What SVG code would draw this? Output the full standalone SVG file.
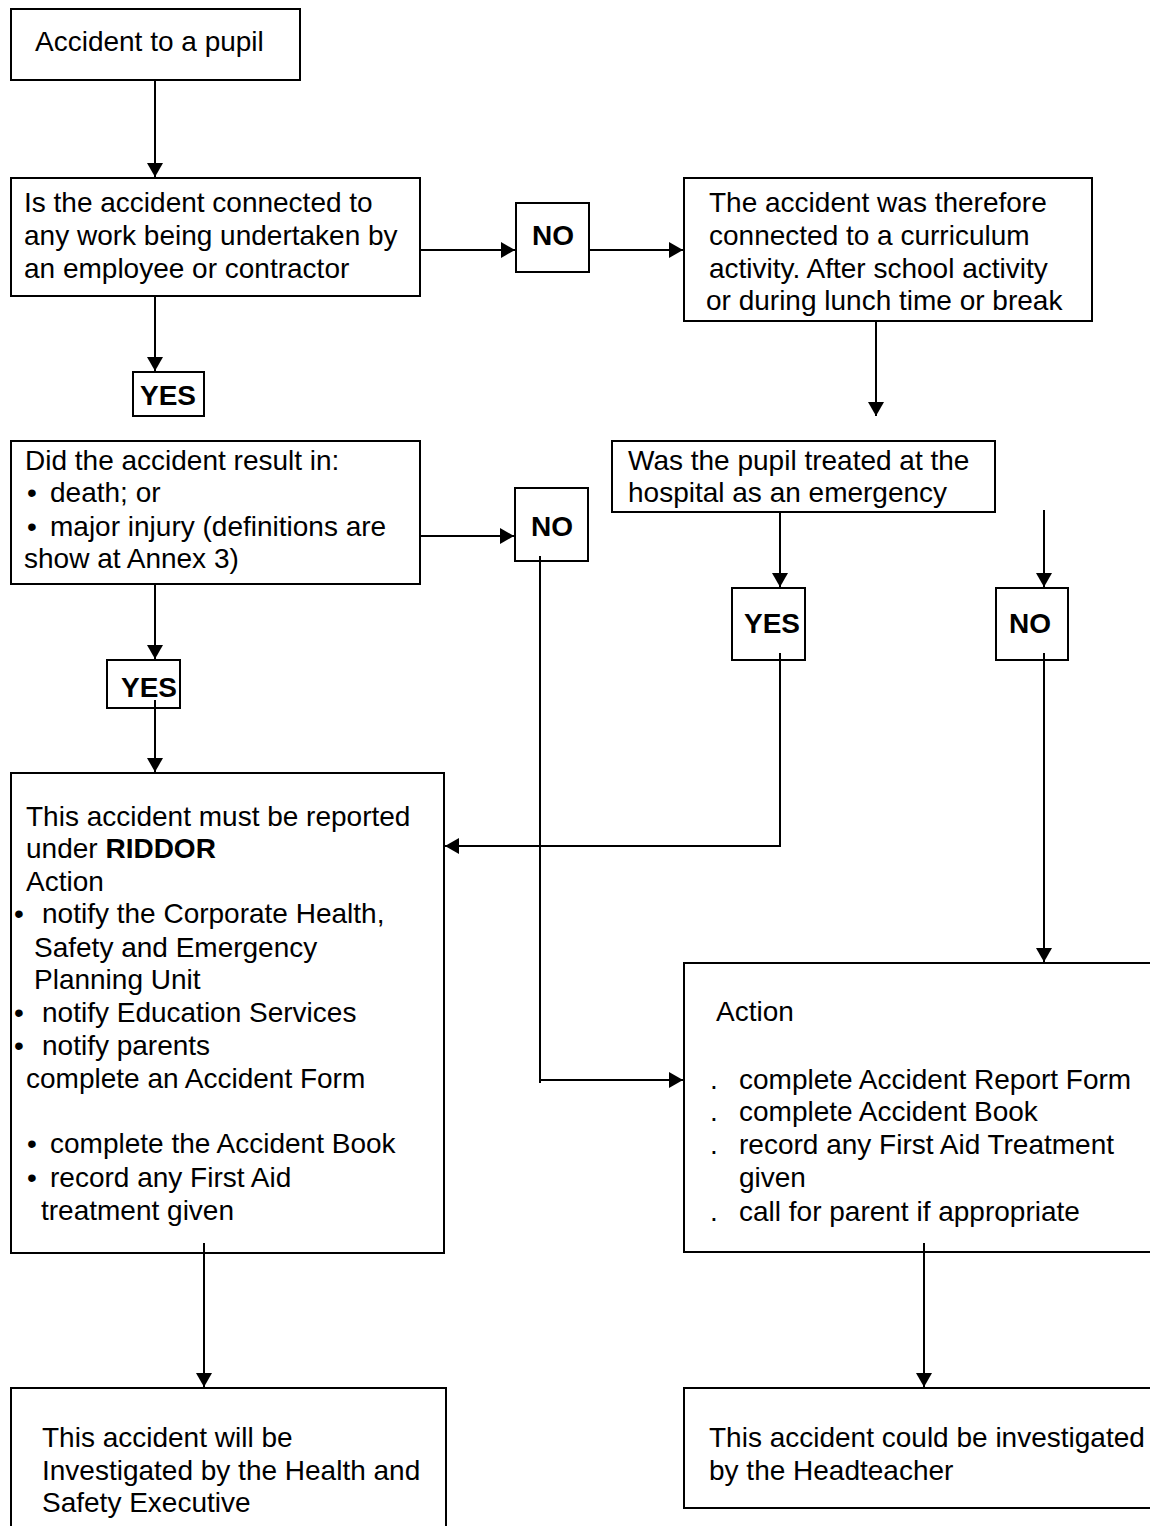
<svg xmlns="http://www.w3.org/2000/svg" width="1150" height="1526" viewBox="0 0 1150 1526">
<style>
.box{fill:#fff;stroke:#000;stroke-width:2}
.t{font-family:"Liberation Sans",Arial,sans-serif;font-size:28px;fill:#000}
.b{font-weight:bold}
.c{text-anchor:middle}
.ln{fill:none;stroke:#000;stroke-width:2}
</style>
<defs>
<marker id="ah" viewBox="0 0 14 16" refX="14" refY="8" markerWidth="14" markerHeight="16" markerUnits="userSpaceOnUse" orient="auto">
<path d="M0,0 L14,8 L0,16 z" fill="#000"/>
</marker>
</defs>
<rect width="1150" height="1526" fill="#fff"/>

<g id="n1">
<rect class="box" x="11" y="9" width="289" height="71"/>
<text class="t" x="35" y="51">Accident to a pupil</text>
</g>

<g id="n2">
<rect class="box" x="11" y="178" width="409" height="118"/>
<text class="t" x="24" y="212">Is the accident connected to</text>
<text class="t" x="24" y="245">any work being undertaken by</text>
<text class="t" x="24" y="278">an employee or contractor</text>
</g>

<g id="no1">
<rect class="box" x="516" y="203" width="73" height="69"/>
<text class="t b c" x="553" y="245">NO</text>
</g>

<g id="n3">
<rect class="box" x="684" y="178" width="408" height="143"/>
<text class="t" x="709" y="212">The accident was therefore</text>
<text class="t" x="709" y="245">connected to a curriculum</text>
<text class="t" x="709" y="278">activity. After school activity</text>
<text class="t" x="706" y="310">or during lunch time or break</text>
</g>

<g id="yes1">
<rect class="box" x="133" y="372" width="71" height="44"/>
<text class="t b c" x="168" y="405">YES</text>
</g>

<g id="n4">
<rect class="box" x="11" y="441" width="409" height="143"/>
<text class="t" x="25" y="470">Did the accident result in:</text>
<text class="t" x="27" y="502">•</text>
<text class="t" x="50" y="502">death; or</text>
<text class="t" x="27" y="536">•</text>
<text class="t" x="50" y="536">major injury (definitions are</text>
<text class="t" x="24" y="568">show at Annex 3)</text>
</g>

<g id="no2">
<rect class="box" x="515" y="488" width="73" height="73"/>
<text class="t b c" x="552" y="536">NO</text>
</g>

<g id="n5">
<rect class="box" x="612" y="441" width="383" height="71"/>
<text class="t" x="628" y="470">Was the pupil treated at the</text>
<text class="t" x="628" y="502">hospital as an emergency</text>
</g>

<g id="yes2">
<rect class="box" x="107" y="660" width="73" height="48"/>
<text class="t b c" x="149" y="697">YES</text>
</g>

<g id="yes3">
<rect class="box" x="732" y="588" width="73" height="72"/>
<text class="t b c" x="772" y="633">YES</text>
</g>

<g id="no3">
<rect class="box" x="996" y="588" width="72" height="72"/>
<text class="t b c" x="1030" y="633">NO</text>
</g>

<g id="n6">
<rect class="box" x="11" y="773" width="433" height="480"/>
<text class="t" x="26" y="826">This accident must be reported</text>
<text class="t" x="26" y="858">under <tspan class="b">RIDDOR</tspan></text>
<text class="t" x="26" y="891">Action</text>
<text class="t" x="14" y="923">•</text>
<text class="t" x="42" y="923">notify the Corporate Health,</text>
<text class="t" x="34" y="957">Safety and Emergency</text>
<text class="t" x="34" y="989">Planning Unit</text>
<text class="t" x="14" y="1022">•</text>
<text class="t" x="42" y="1022">notify Education Services</text>
<text class="t" x="14" y="1055">•</text>
<text class="t" x="42" y="1055">notify parents</text>
<text class="t" x="26" y="1088">complete an Accident Form</text>
<text class="t" x="27" y="1153">•</text>
<text class="t" x="50" y="1153">complete the Accident Book</text>
<text class="t" x="27" y="1187">•</text>
<text class="t" x="50" y="1187">record any First Aid</text>
<text class="t" x="41" y="1220">treatment given</text>
</g>

<g id="n7">
<rect class="box" x="684" y="963" width="480" height="289"/>
<text class="t" x="716" y="1021">Action</text>
<text class="t" x="710" y="1089">.</text>
<text class="t" x="739" y="1089">complete Accident Report Form</text>
<text class="t" x="710" y="1121">.</text>
<text class="t" x="739" y="1121">complete Accident Book</text>
<text class="t" x="710" y="1154">.</text>
<text class="t" x="739" y="1154">record any First Aid Treatment</text>
<text class="t" x="739" y="1187">given</text>
<text class="t" x="710" y="1221">.</text>
<text class="t" x="739" y="1221">call for parent if appropriate</text>
</g>

<g id="n8">
<rect class="box" x="11" y="1388" width="435" height="160"/>
<text class="t" x="42" y="1447">This accident will be</text>
<text class="t" x="42" y="1480">Investigated by the Health and</text>
<text class="t" x="42" y="1512">Safety Executive</text>
</g>

<g id="n9">
<rect class="box" x="684" y="1388" width="480" height="120"/>
<text class="t" x="709" y="1447">This accident could be investigated</text>
<text class="t" x="709" y="1480">by the Headteacher</text>
</g>

<g id="connectors">
<path class="ln" d="M155,80 V177" marker-end="url(#ah)"/>
<path class="ln" d="M420,250 H515" marker-end="url(#ah)"/>
<path class="ln" d="M589,250 H683" marker-end="url(#ah)"/>
<path class="ln" d="M155,296 V371" marker-end="url(#ah)"/>
<path class="ln" d="M876,321 V416" marker-end="url(#ah)"/>
<path class="ln" d="M420,536 H514" marker-end="url(#ah)"/>
<path class="ln" d="M155,584 V659" marker-end="url(#ah)"/>
<path class="ln" d="M155,700 V772" marker-end="url(#ah)"/>
<path class="ln" d="M780,512 V587" marker-end="url(#ah)"/>
<path class="ln" d="M1044,510 V587" marker-end="url(#ah)"/>
<path class="ln" d="M780,653 V846 H445" marker-end="url(#ah)"/>
<path class="ln" d="M1044,653 V962" marker-end="url(#ah)"/>
<path class="ln" d="M540,556 V1083"/>
<path class="ln" d="M540,1080 H683" marker-end="url(#ah)"/>
<path class="ln" d="M204,1243 V1387" marker-end="url(#ah)"/>
<path class="ln" d="M924,1243 V1387" marker-end="url(#ah)"/>
</g>
</svg>
